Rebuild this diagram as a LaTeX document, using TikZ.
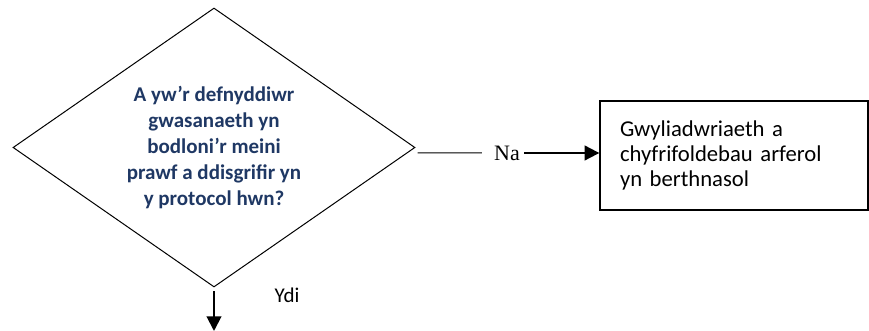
\documentclass[tikz,border=0pt]{standalone}
\usepackage{fontspec}
\setmainfont{Carlito}
\newfontfamily\serifna{Liberation Serif}
\usetikzlibrary{shapes.geometric,arrows.meta}

\definecolor{qblue}{RGB}{31,56,100}

\tikzset{
    question/.style={diamond, draw, line width=0.75pt, inner sep=0pt, aspect=1.44,
        minimum width=301.5pt, minimum height=209.25pt, align=center,
        font=\fontsize{15.75}{19.5}\selectfont\bfseries, text=qblue},
    outcome/.style={rectangle, draw, line width=1pt, inner xsep=15pt,
        minimum width=201pt, minimum height=81.75pt, text width=171pt, align=left,
        font=\fontsize{17}{18.75}\selectfont},
    flow/.style={line width=1.5pt, -{Triangle[length=11pt,width=11pt]}}
}

\begin{document}
\begin{tikzpicture}[x=0.75pt,y=-0.75pt]

\useasboundingbox (0,0) rectangle (869,331);

\node [question] (dec) at (214,147.5)
    {A yw’r defnyddiwr\\gwasanaeth yn\\bodloni’r meini\\prawf a ddisgrifir yn\\y protocol hwn?};

\node [outcome] (gwyl) at (734,155.5)
    {Gwyliadwriaeth a\\chyfrifoldebau arferol\\yn berthnasol};

\node [inner sep=3pt, font=\serifna\fontsize{16.5}{16.5}\selectfont] (na) at (507,153) {Na};
\node [font=\fontsize{15.75}{15.75}\selectfont] (ydi) at (287,295) {Ydi};

\coordinate (end) at (214,331);

\draw [line width=0.75pt] ([xshift=1.5pt,yshift=-4.1pt]dec.east) -- ([xshift=-6pt]na.west);
\draw [flow] (na.east) -- (gwyl.west |- na.east);
\draw [flow] ([yshift=-3pt]dec.south) -- (end);

\end{tikzpicture}
\end{document}
